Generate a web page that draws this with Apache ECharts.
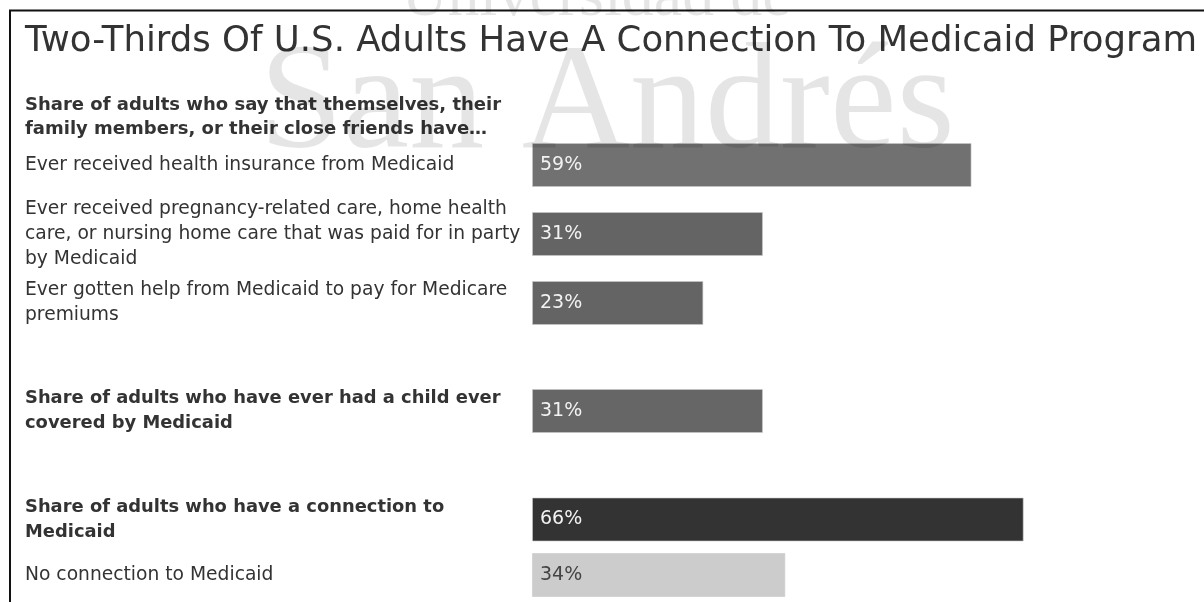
<!DOCTYPE html>
<html>
<head>
<meta charset="utf-8">
<script src="https://cdn.jsdelivr.net/npm/echarts@6/dist/echarts.min.js"></script>
<style>
  html, body { margin: 0; padding: 0; background: #fff; }
  #chart { width: 1204px; height: 602px; }
</style>
</head>
<body>
<div id="chart"></div>
<script>
// ---- Data ----
const chartTitle = 'Two-Thirds Of U.S. Adults Have A Connection To Medicaid Program';
const sectionHeader = 'Share of adults who say that themselves, their\nfamily members, or their close friends have…';

const groupOneCategories = [
  'Ever received health insurance from Medicaid',
  'Ever received pregnancy-related care, home health\ncare, or nursing home care that was paid for in party\nby Medicaid',
  'Ever gotten help from Medicaid to pay for Medicare\npremiums'
];
const groupOneValues = [59, 31, 23];

const groupTwoCategories = ['Share of adults who have ever had a child ever\ncovered by Medicaid'];
const groupTwoValues = [31];

const groupThreeCategories = ['Share of adults who have a connection to\nMedicaid', 'No connection to Medicaid'];
const groupThreeValues = [66, 34];

const watermarkTop = 'Universidad de';
const watermarkMain = 'San Andrés';

// ---- Styles ----
const FONT = 'DejaVu Sans';
const groupOneColors = ['#717171', '#646464', '#646464'];
const groupTwoColors = ['#666666'];
const groupThreeColors = ['#333333', '#cccccc'];
const groupThreeLabelColors = ['#f2f2f2', '#444444'];
const groupOneBold = [false, false, false];
const groupTwoBold = [true];
const groupThreeBold = [true, false];

const chart = echarts.init(document.getElementById('chart'), null, { renderer: 'canvas' });

const GRID_LEFT = 532, GRID_WIDTH = 596, X_MAX = 80, LABEL_LEFT = 25;
const grids = [
  { left: GRID_LEFT, width: GRID_WIDTH, top: 130.5, height: 207, containLabel: false, outerBoundsMode: 'none' },
  { left: GRID_LEFT, width: GRID_WIDTH, top: 389, height: 44, containLabel: false, outerBoundsMode: 'none' },
  { left: GRID_LEFT, width: GRID_WIDTH, top: 491.75, height: 111, containLabel: false, outerBoundsMode: 'none' }
];

function makeYAxis(gridIndex, cats, boldFlags) {
  return {
    type: 'category',
    gridIndex: gridIndex,
    inverse: true,
    data: cats.map((c, i) => ({
      value: c,
      textStyle: {
        fontWeight: boldFlags[i] ? 'bold' : 'normal',
        fontSize: boldFlags[i] ? 17.9 : 18.7,
        align: 'left'
      }
    })),
    axisLine: { show: false },
    axisTick: { show: false },
    splitLine: { show: false },
    axisLabel: {
      align: 'left',
      margin: GRID_LEFT - LABEL_LEFT,
      color: '#333333',
      fontFamily: FONT,
      fontSize: 18.7,
      lineHeight: 25,
      hideOverlap: false
    }
  };
}

function makeXAxis(gridIndex) {
  return {
    type: 'value', gridIndex: gridIndex, min: 0, max: X_MAX, show: false,
    splitLine: { show: false }
  };
}

function makeSeries(idx, values, colors, labelColors) {
  return {
    type: 'bar',
    xAxisIndex: idx, yAxisIndex: idx,
    barWidth: 44,
    data: values.map((v, i) => ({
      value: v,
      itemStyle: { color: colors[i], borderColor: 'rgba(200,200,200,0.6)', borderWidth: 1 },
      label: { color: labelColors ? labelColors[i] : '#f2f2f2' }
    })),
    label: {
      show: true,
      position: 'insideLeft',
      distance: 8,
      fontFamily: FONT,
      fontSize: 19,
      formatter: '{c}%'
    },
    silent: true
  };
}

const option = {
  animation: false,
  backgroundColor: '#ffffff',
  title: [
    {
      text: chartTitle, left: 20, top: 19,
      textStyle: { fontFamily: FONT, fontSize: 35.5, fontWeight: 'normal', color: '#333333', lineHeight: 36 }
    },
    {
      text: sectionHeader, left: 20, top: 88,
      textStyle: { fontFamily: FONT, fontSize: 18, fontWeight: 'bold', color: '#333333', lineHeight: 24 }
    }
  ],
  grid: grids,
  xAxis: [makeXAxis(0), makeXAxis(1), makeXAxis(2)],
  yAxis: [
    makeYAxis(0, groupOneCategories, groupOneBold),
    makeYAxis(1, groupTwoCategories, groupTwoBold),
    makeYAxis(2, groupThreeCategories, groupThreeBold)
  ],
  series: [
    makeSeries(0, groupOneValues, groupOneColors),
    makeSeries(1, groupTwoValues, groupTwoColors),
    makeSeries(2, groupThreeValues, groupThreeColors, groupThreeLabelColors)
  ],
  graphic: [
    { type: 'line', z: 50, shape: { x1: 9, y1: 10.5, x2: 1204, y2: 10.5 }, style: { stroke: '#111', lineWidth: 2 } },
    { type: 'line', z: 50, shape: { x1: 10, y1: 10, x2: 10, y2: 602 }, style: { stroke: '#111', lineWidth: 2 } },
    {
      type: 'text', z: 100, silent: true, x: 596, y: -2,
      style: { text: watermarkTop, fontFamily: 'Liberation Serif', fontSize: 64, fill: 'rgba(0,0,0,0.1)', align: 'center', verticalAlign: 'middle' }
    },
    {
      type: 'text', z: 100, silent: true, x: 607, y: 108,
      style: { text: watermarkMain, fontFamily: 'Liberation Serif', fontSize: 150, fill: 'rgba(0,0,0,0.1)', align: 'center', verticalAlign: 'middle' }
    }
  ]
};

chart.setOption(option);
</script>
</body>
</html>
